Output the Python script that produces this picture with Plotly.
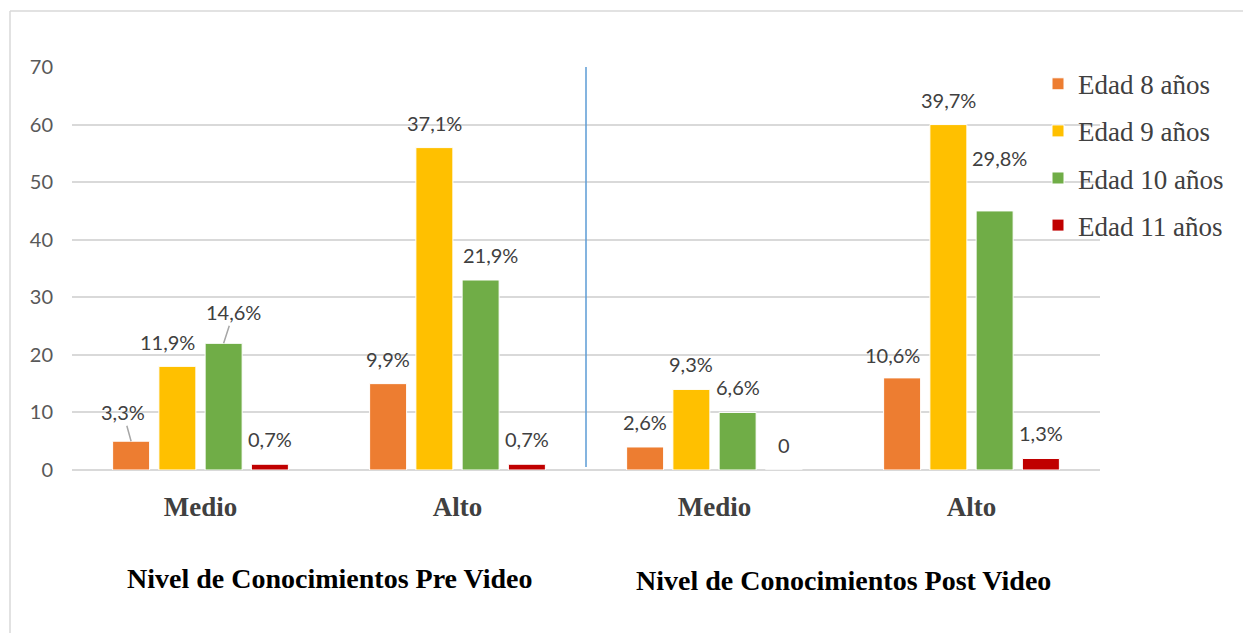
import plotly.graph_objects as go

categories = ["Medio", "Alto", "Medio", "Alto"]
groups = ["Nivel de Conocimientos Pre Video", "Nivel de Conocimientos Post Video"]
series_names = ["Edad 8 años", "Edad 9 años", "Edad 10 años", "Edad 11 años"]
edad_8 = [5, 15, 4, 16]
edad_9 = [18, 56, 14, 60]
edad_10 = [22, 33, 10, 45]
edad_11 = [1, 1, 0, 2]
labels_8 = ["3,3%", "9,9%", "2,6%", "10,6%"]
labels_9 = ["11,9%", "37,1%", "9,3%", "39,7%"]
labels_10 = ["14,6%", "21,9%", "6,6%", "29,8%"]
labels_11 = ["0,7%", "0,7%", "0", "1,3%"]

colors = ["#ED7D31", "#FFC000", "#70AD47", "#C00000"]
values = [edad_8, edad_9, edad_10, edad_11]
labels = [labels_8, labels_9, labels_10, labels_11]

xs = list(range(len(categories)))

fig = go.Figure()
for i, name in enumerate(series_names):
    fig.add_trace(go.Bar(
        x=xs, y=values[i], name=name,
        marker=dict(color=colors[i], line=dict(color="white", width=1)),
        legendgroup=name,
    ))

bargap = 0.28
bargroupgap = 0.2
n = len(series_names)
slot = (1 - bargap) / n
offsets = [(-(1 - bargap) / 2 + slot * (k + 0.5)) for k in range(n)]

# label adjustments (pixel shifts): (series, category) -> (dx, dy, leader)
adjust = {
    (0, 0): (-8, 29, True),
    (2, 0): (10, 31, True),
    (1, 0): (-10, 24, False),
    (2, 1): (10, 25, False),
    (0, 3): (-10, 23, False),
    (2, 3): (5, 53, False),
}

annotations = []
lab_font = dict(family="Lato", size=20, color="#404040")
for s in range(n):
    for c in xs:
        xv = c + offsets[s]
        yv = values[s][c]
        dx, dy, leader = adjust.get((s, c), (0, 25, False))
        if leader:
            annotations.append(dict(
                x=xv, y=yv, xref="x", yref="y", text=labels[s][c],
                showarrow=True, arrowhead=0, arrowwidth=1.5, arrowcolor="#A6A6A6",
                ax=dx, ay=-dy, font=lab_font, standoff=0,
            ))
        else:
            annotations.append(dict(
                x=xv, y=yv, xref="x", yref="y", text=labels[s][c],
                showarrow=False, xshift=dx, yshift=dy, yanchor="middle",
                font=lab_font,
            ))

for g, title in enumerate(groups):
    annotations.append(dict(
        x=0.5 + 2 * g, y=0, xref="x", yref="paper", text="<b>%s</b>" % title,
        showarrow=False, yshift=-108 - 2 * g, yanchor="middle",
        font=dict(family="Liberation Serif", size=28, color="black"),
    ))

shapes = [
    dict(type="line", xref="x", yref="y", x0=1.5, x1=1.5, y0=0.5, y1=70,
         line=dict(color="#5B9BD5", width=1.5)),
    dict(type="line", xref="paper", yref="paper", x0=(10 - 72) / 1028, x1=(1243 - 72) / 1028,
         y0=(470 - 11) / 403, y1=(470 - 11) / 403, line=dict(color="#D9D9D9", width=1.5)),
    dict(type="line", xref="paper", yref="paper", x0=(10 - 72) / 1028, x1=(10 - 72) / 1028,
         y0=(470 - 11) / 403, y1=(470 - 640) / 403, line=dict(color="#D9D9D9", width=1.5)),
]

fig.update_layout(
    width=1243, height=633,
    margin=dict(l=72, r=143, t=67, b=163),
    paper_bgcolor="white", plot_bgcolor="white",
    barmode="group", bargap=bargap, bargroupgap=bargroupgap,
    showlegend=True,
    legend=dict(x=(1038 - 72) / 1028, xanchor="left", y=1.018, yanchor="top",
                font=dict(family="Liberation Serif", size=27, color="#404040"),
                tracegroupgap=9, bgcolor="rgba(0,0,0,0)"),
    annotations=annotations,
    shapes=shapes,
    xaxis=dict(tickvals=xs, ticktext=["<b>%s</b>" % c for c in categories],
               range=[-0.5, len(categories) - 0.5], showgrid=False, zeroline=False,
               showline=False, ticks="", ticklabelstandoff=18,
               tickfont=dict(family="Liberation Serif", size=27, color="#404040")),
    yaxis=dict(range=[0, 70], dtick=10, showgrid=True, gridcolor="#D9D9D9", gridwidth=1.5,
               zeroline=True, zerolinecolor="#D9D9D9", zerolinewidth=1.5,
               showline=False, ticks="", ticklabelstandoff=18,
               tickfont=dict(family="Lato", size=20, color="#595959")),
)

fig.write_html("out.html")
